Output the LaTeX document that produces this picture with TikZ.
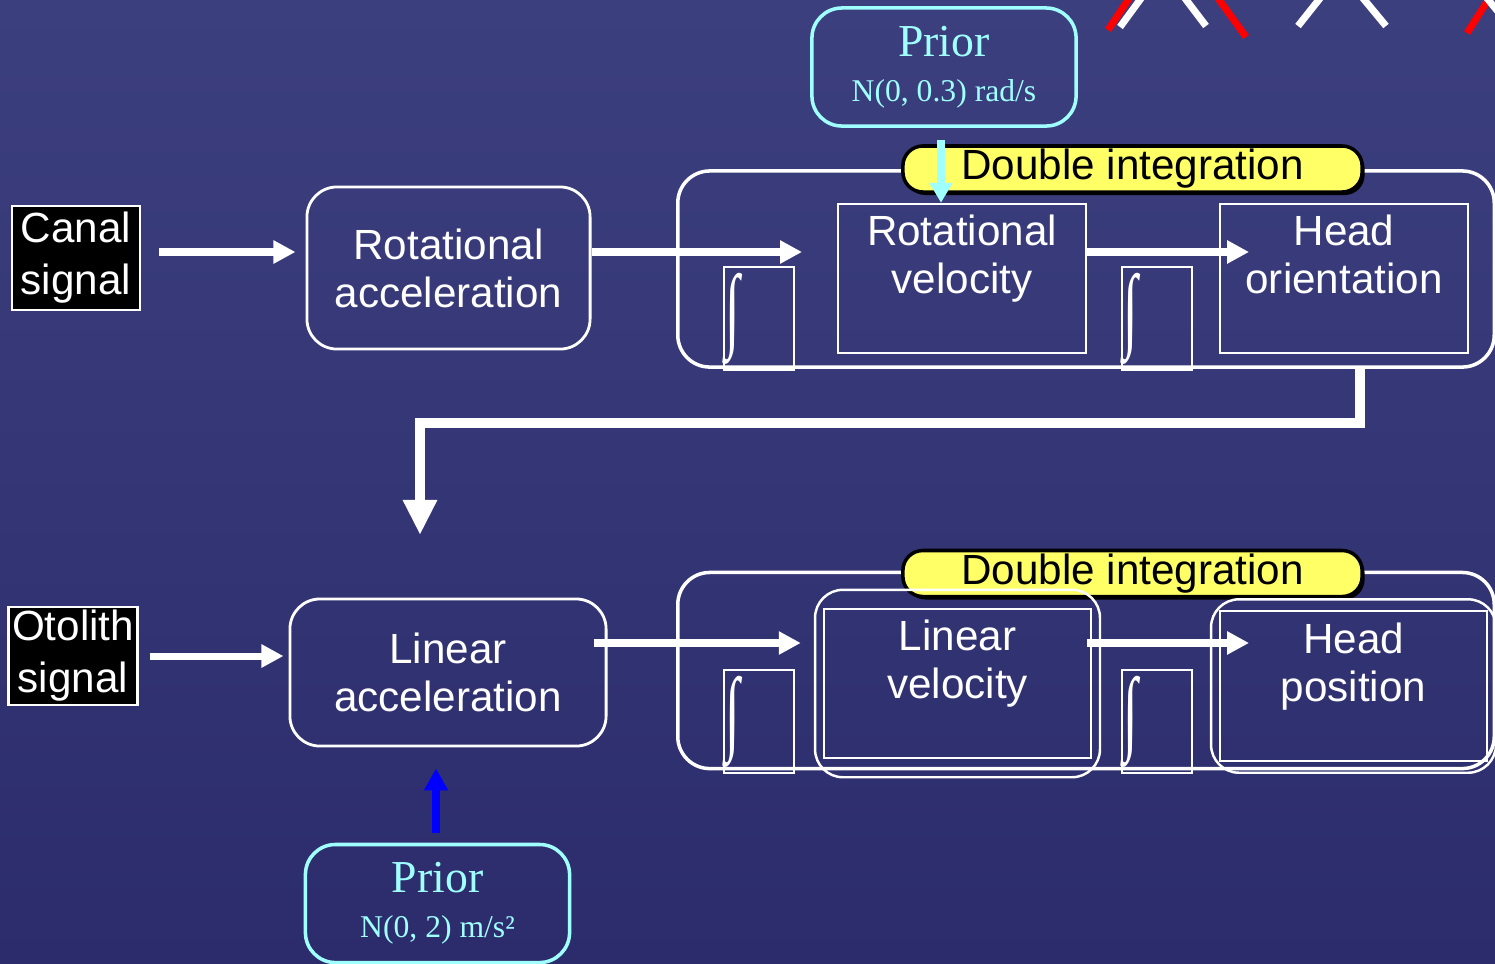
\documentclass[tikz,border=0pt]{standalone}
\usepackage{fontspec}
\setmainfont{Liberation Serif}
\setsansfont{Liberation Sans}
\usetikzlibrary{arrows.meta,positioning,fit,shadows}
\definecolor{bgtop}{RGB}{60,63,126}
\definecolor{bgbot}{RGB}{44,44,108}
\definecolor{priorcyan}{RGB}{160,255,255}
\definecolor{lblyellow}{RGB}{255,255,102}
\newcommand{\integ}{\raisebox{0.1cm}{\scalebox{0.75}[1.32]{∫}}}
\tikzset{
  sig/.style={rectangle, draw=white, line width=0.6pt, fill=black, text=white, inner sep=1pt, align=center, font=\sffamily\fontsize{12}{14.8}\selectfont},
  accel/.style={rectangle, draw=white, line width=0.8pt, rounded corners=0.3cm, text=white, align=center, font=\sffamily\fontsize{12}{13.6}\selectfont},
  grp/.style={rectangle, draw=white, line width=1pt, rounded corners=0.32cm, minimum width=8.16cm, minimum height=1.96cm},
  lbl/.style={rectangle, draw=black, line width=1pt, fill=lblyellow, rounded corners=0.2cm, minimum width=4.59cm, minimum height=0.46cm, inner sep=0pt, text=black, font=\sffamily\fontsize{12}{13}\selectfont, drop shadow={shadow xshift=0.025cm, shadow yshift=-0.03cm, opacity=1, fill=black}},
  qty/.style={rectangle, draw=white, line width=0.5pt, text=white, align=center, minimum width=2.48cm, minimum height=1.43cm, font=\sffamily\fontsize{12}{13.6}\selectfont},
  halo/.style={rectangle, draw=white, line width=0.7pt, rounded corners=0.28cm},
  intbox/.style={rectangle, draw=white, line width=0.5pt, minimum width=0.7cm, minimum height=1.03cm, text width=0.66cm, align=left, inner sep=0.02cm, text=white, font=\rmfamily\fontsize{20}{20}\selectfont},
  prior/.style={rectangle, draw=priorcyan, line width=1pt, rounded corners=0.3cm, text=priorcyan, align=center, minimum width=2.64cm, minimum height=1.18cm, font=\rmfamily\fontsize{13}{12.8}\selectfont},
  arr/.style={-{Triangle[length=0.22cm, width=0.22cm]}, draw=white, line width=2pt},
  conn/.style={-{Triangle[length=0.35cm, width=0.32cm]}, draw=white, line width=2.8pt},
  priorarr/.style={-{Triangle[length=0.2cm, width=0.22cm]}, draw=priorcyan, line width=2.3pt},
  bluearr/.style={-{Triangle[length=0.22cm, width=0.23cm]}, draw=blue, line width=2.3pt},
  slashw/.style={draw=white, line width=2pt},
  slashr/.style={draw=red, line width=2pt}
}

\begin{document}
\begin{tikzpicture}[x=0.01cm, y=-0.01cm]
\useasboundingbox (0,0) rectangle (1495,963);
\clip (0,0) rectangle (1495,963);
\shade[top color=bgtop, bottom color=bgbot] (0,0) rectangle (1495,963);

% marks at the top edge
\draw[slashr] (1108,30) -- (1130,-3);
\draw[slashw] (1120,27) -- (1142,-3);
\draw[slashw] (1184,-3) -- (1206,26);
\draw[slashr] (1217,-3) -- (1246,37);
\draw[slashw] (1298,26) -- (1321,-3);
\draw[slashw] (1362,-3) -- (1386,26);
\draw[slashr] (1467,33) -- (1490,-3);
\draw[slashw] (1486,-3) -- (1500,14);

% rotation row
\node[grp] (upgrp) at (1086,269) {};
\node[lbl] (uplbl) at (1132.5,169) {Double integration};
\node[sig, minimum width=1.28cm, minimum height=1.04cm] (canal) at (76,258) {Canal\\signal};
\node[accel, minimum width=2.83cm, minimum height=1.62cm] (rotacc) at (448.5,268) {Rotational\\acceleration};
\node[qty] (rotvel) at (962,278.5) {Rotational\\velocity\\\mbox{}};
\node[qty] (headori) at (1344,278.5) {Head\\orientation\\\mbox{}};
\node[intbox] (int1) at (759,318.5) {\integ};
\node[intbox, right=3.26cm of int1] (int2) {\integ};
\node[prior] (prior1) at (944,67) {Prior\\{\fontsize{9}{10}\selectfont N(0, 0.3) rad/s}};

% translation row
\node[grp] (lowgrp) at (1086,670.5) {};
\node[lbl] (lowlbl) at (1132.5,573.5) {Double integration};
\node[sig, minimum width=1.26cm, minimum height=0.98cm] (otolith) at (73,656) {Otolith\\signal};
\node[accel, minimum width=3.16cm, minimum height=1.47cm] (linacc) at (448,672.5) {Linear\\acceleration};
\node[qty, minimum width=2.67cm] (linvel) at (957.5,683.5) {Linear\\velocity\\\mbox{}};
\node[halo, inner xsep=0.08cm, inner ysep=0.18cm, fit=(linvel)] (linvelhalo) {};
\node[qty, minimum width=2.67cm, minimum height=1.48cm] (headpos) at (1353.5,686) {Head\\position\\\mbox{}};
\node[halo, inner xsep=0.08cm, inner ysep=0.11cm, fit=(headpos)] (headposhalo) {};
\node[intbox, below=2.98cm of int1] (int3) {\integ};
\node[intbox, right=3.26cm of int3] (int4) {\integ};
\node[prior] (prior2) at (437.5,903.5) {Prior\\{\fontsize{9}{10}\selectfont N(0, 2) m/s²}};

\coordinate (drop) at (420,535);

\draw[arr, shorten <=0.18cm, shorten >=0.1cm] ([yshift=0.06cm]canal.east) -- ([yshift=0.06cm]canal.east -| rotacc.west);
\draw[arr, shorten >=0.35cm] ([yshift=0.16cm]rotacc.east) -- ([yshift=0.16cm]rotacc.east -| rotvel.west);
\draw[arr, shorten >=-0.3cm] ([yshift=0.265cm]rotvel.east) -- ([yshift=0.265cm]rotvel.east -| headori.west);
\draw[priorarr, shorten <=0.12cm] ([xshift=-0.03cm]prior1.south) -- ([xshift=-0.03cm]prior1.south |- rotvel.north);

\draw[conn] ([xshift=-1.36cm]upgrp.south east) -- ++(0,54) -| (drop);

\draw[arr, shorten <=0.11cm, shorten >=0.05cm] (otolith.east) -- (otolith.east -| linacc.west);
\draw[arr, shorten <=-0.14cm, shorten >=0.13cm] ([yshift=0.295cm]linacc.east) -- ([yshift=0.295cm]linacc.east -| linvelhalo.west);
\draw[arr, shorten <=-0.05cm, shorten >=-0.3cm] ([yshift=0.405cm]linvel.east) -- ([yshift=0.405cm]linvel.east -| headpos.west);
\draw[bluearr, shorten <=0.1cm, shorten >=0.21cm] ([xshift=-0.015cm]prior2.north) -- ([xshift=-0.015cm]prior2.north |- linacc.south);
\end{tikzpicture}
\end{document}
